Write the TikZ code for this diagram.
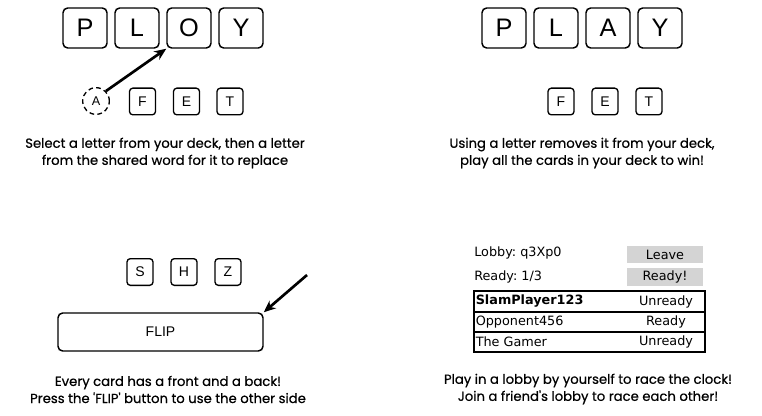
\documentclass[tikz,border=0pt]{standalone}
\usepackage{fontspec}
\setmainfont{Liberation Sans}
\newfontfamily\capfont[FakeBold=0.6]{Poppins}
\newfontfamily\lobbyfont{DejaVu Sans}
\usetikzlibrary{arrows.meta}
\frenchspacing
\begin{document}
\begin{tikzpicture}[x=0.75pt,y=-0.75pt,
  bigcard/.style={draw,line width=1.1pt,rounded corners=3.5pt,minimum width=33pt,minimum height=30pt,inner sep=0pt,font=\fontsize{19}{19}\selectfont},
  smallcard/.style={draw,line width=1pt,rounded corners=2.5pt,minimum width=19.5pt,minimum height=20pt,inner sep=0pt,font=\fontsize{10.5}{10.5}\selectfont},
  capt/.style={align=center,font=\capfont\fontsize{9.9}{12.8}\selectfont},
  lobbytxt/.style={anchor=west,inner sep=0pt,font=\lobbyfont\fontsize{9.6}{9.6}\selectfont},
  btn/.style={fill=black!17,minimum width=57pt,minimum height=13pt,inner sep=0pt,font=\lobbyfont\fontsize{9.6}{9.6}\selectfont},
  arr/.style={line width=2pt,-{Stealth[length=9pt,width=7.5pt]}}]
\useasboundingbox (0,0) rectangle (762,416);
% top left
\node[bigcard] (p1) at (85,28) {P};
\node[bigcard] (l1) at (137,28) {L};
\node[bigcard] (o1) at (189,28) {O};
\node[bigcard] (y1) at (241,28) {Y};
\node[draw,circle,dashed,dash pattern=on 3.5pt off 2.5pt,line width=1pt,minimum size=20pt,inner sep=0pt,font=\fontsize{9.5}{9.5}\selectfont] (a1) at (96,101) {A};
\node[smallcard] (f1) at (142.5,101.5) {F};
\node[smallcard] (e1) at (186.5,101.5) {E};
\node[smallcard] (t1) at (230,101.5) {T};
\draw[arr] (a1.north east) -- (o1.south west);
\node[capt] (c1) at (165,153) {Select a letter from your deck, then a letter\\from the shared word for it to replace};
% top right
\node[bigcard] (p2) at (504,28) {P};
\node[bigcard] (l2) at (556,28) {L};
\node[bigcard] (a2) at (608,28) {A};
\node[bigcard] (y2) at (660,28) {Y};
\node[smallcard] (f2) at (561,101.5) {F};
\node[smallcard] (e2) at (605,101.5) {E};
\node[smallcard] (t2) at (649,101.5) {T};
\node[capt] (c2) at (582,153) {Using a letter removes it from your deck,\\play all the cards in your deck to win!};
% bottom left
\node[smallcard] (s3) at (140,272) {S};
\node[smallcard] (h3) at (184,272) {H};
\node[smallcard] (z3) at (228,272) {Z};
\node[draw,line width=1.1pt,rounded corners=3.5pt,minimum width=153.75pt,minimum height=28.5pt,inner sep=0pt,font=\fontsize{10.5}{10.5}\selectfont] (flip) at (160.5,332) {FLIP};
\coordinate (fs) at (307,275);
\draw[arr] (fs) -- (flip.north east);
\node[capt] (c3) at (168,389.5) {Every card has a front and a back!\\Press the 'FLIP' button to use the other side};
% bottom right
\node[lobbytxt] (lob) at (474,253) {Lobby: q3Xp0};
\node[lobbytxt] (rdy) at (474,277) {Ready: 1/3};
\node[btn] (leave) at (665,254.5) {Leave};
\node[btn] (ready) at (665,277) {Ready!};
\draw[line width=1pt] (474,291) rectangle (705,352);
\draw[line width=1pt] (474,312) -- (705,312) (474,332) -- (705,332);
\node[lobbytxt,font=\lobbyfont\bfseries\fontsize{9.6}{9.6}\selectfont] (n1) at (475.5,301.5) {SlamPlayer123};
\node[lobbytxt] (n2) at (475.5,322) {Opponent456};
\node[lobbytxt] (n3) at (475.5,342) {The Gamer};
\node[inner sep=0pt,font=\lobbyfont\fontsize{9.6}{9.6}\selectfont] (s1) at (666,301.5) {Unready};
\node[inner sep=0pt,font=\lobbyfont\fontsize{9.6}{9.6}\selectfont] (s2) at (666,322) {Ready};
\node[inner sep=0pt,font=\lobbyfont\fontsize{9.6}{9.6}\selectfont] (s3b) at (666,342) {Unready};
\node[capt] (c4) at (588,389) {Play in a lobby by yourself to race the clock!\\Join a friend's lobby to race each other!};
\end{tikzpicture}
\end{document}
